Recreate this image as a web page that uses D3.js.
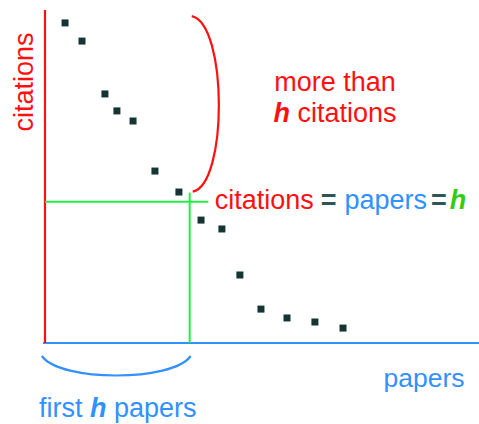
<!DOCTYPE html>
<html>
<head>
<meta charset="utf-8">
<script src="https://cdn.jsdelivr.net/npm/d3@7"></script>
<style>
  html, body { margin: 0; padding: 0; background: #fff; }
  svg { display: block; font-family: "Liberation Sans", Arial, sans-serif; }
</style>
</head>
<body>
<svg id="chart" width="479" height="424"></svg>
<script>
// ---- data (paper rank position, citation count) ----
const paperPos  = [0.97, 1.79, 2.9, 3.48, 4.26, 5.32, 6.48, 7.55, 8.56, 9.43, 10.45, 11.71, 13.06, 14.42];
const citations = [15.86, 14.96, 12.34, 11.5, 11.0, 8.52, 7.48, 6.09, 5.65, 3.37, 1.68, 1.24, 1.04, 0.74];
const hValue = 7;
const xLabel = "papers";
const yLabel = "citations";

const RED = "#ff1010", BLUE = "#3390ff", GREEN_LINE = "#22ee44", GREEN_TEXT = "#33cc11",
      DOT = "#153535", EQ = "#2f5555";

const svg = d3.select("#chart");
const x = d3.scaleLinear().domain([0, 21]).range([45, 479]);
const y = d3.scaleLinear().domain([0, 16.5]).range([343, 10]);

// axes (bare lines)
const xAxis = svg.append("g").attr("transform", `translate(0,${y(0)})`)
  .call(d3.axisBottom(x).ticks(0).tickSize(0).tickFormat(""));
xAxis.select(".domain").attr("stroke", BLUE).attr("stroke-width", 2.2)
  .attr("d", `M${x(0) - 2},0H${x(21)}`);
const yAxis = svg.append("g").attr("transform", `translate(${x(0)},0)`)
  .call(d3.axisLeft(y).ticks(0).tickSize(0).tickFormat(""));
yAxis.select(".domain").attr("stroke", RED).attr("stroke-width", 2.2)
  .attr("d", `M0,${y(16.5)}V${y(0)}`);

// h crosshair
svg.append("line")
  .attr("x1", x(0)).attr("x2", x(hValue + 0.9))
  .attr("y1", y(hValue)).attr("y2", y(hValue))
  .attr("stroke", GREEN_LINE).attr("stroke-width", 2);
svg.append("line")
  .attr("x1", x(hValue)).attr("x2", x(hValue))
  .attr("y1", y(0)).attr("y2", y(hValue + 0.45))
  .attr("stroke", GREEN_LINE).attr("stroke-width", 2);

// points
const pts = paperPos.map((p, i) => ({ p, c: citations[i] }));
svg.append("g").selectAll("rect").data(pts).join("rect")
  .attr("x", d => x(d.p) - 3.5).attr("y", d => y(d.c) - 3.5)
  .attr("width", 7).attr("height", 7)
  .attr("fill", DOT);

// red bracket ")" spanning the top-h papers
{
  const x0 = x(7.1), y0 = y(16.2), y1 = y(7.5), bulge = 36;
  svg.append("path")
    .attr("d", `M${x0},${y0} C${x0 + bulge},${y0 + 8} ${x0 + bulge},${y1 - 7} ${x0 + 1},${y1}`)
    .attr("fill", "none").attr("stroke", RED).attr("stroke-width", 2.2);
}
// blue bracket under first h papers
{
  const xa = x(-0.15), xb = x(7.05), yb = y(0) + 13, depth = 26;
  svg.append("path")
    .attr("d", `M${xa},${yb} C${xa + 18},${yb + depth} ${xb - 18},${yb + depth} ${xb},${yb}`)
    .attr("fill", "none").attr("stroke", BLUE).attr("stroke-width", 2.2);
}

const FS = 27;
// y label
svg.append("text")
  .attr("transform", `translate(33,82) rotate(-90)`)
  .attr("text-anchor", "middle").attr("font-size", FS).attr("fill", RED)
  .text(yLabel);
// x label
svg.append("text")
  .attr("x", 424).attr("y", 387).attr("text-anchor", "middle")
  .attr("font-size", 26.5).attr("fill", BLUE).text(xLabel);

// "more than / h citations"
svg.append("text").attr("x", 335).attr("y", 91).attr("text-anchor", "middle")
  .attr("font-size", FS).attr("fill", RED).text("more than");
{
  const t = svg.append("text").attr("x", 335).attr("y", 122).attr("text-anchor", "middle")
    .attr("font-size", FS).attr("fill", RED);
  t.append("tspan").attr("font-weight", "bold").attr("font-style", "italic").text("h");
  t.append("tspan").text(" citations");
}

// equation line
{
  const t = svg.append("text").attr("x", x(hValue) + 25).attr("y", y(hValue) + 7)
    .attr("font-size", FS);
  t.append("tspan").attr("fill", RED).text("citations");
  t.append("tspan").attr("fill", EQ).attr("font-weight", "bold").attr("dx", 7).text("=");
  t.append("tspan").attr("fill", BLUE).attr("dx", 8).text("papers");
  t.append("tspan").attr("fill", EQ).attr("font-weight", "bold").attr("dx", 4).text("=");
  t.append("tspan").attr("fill", GREEN_TEXT).attr("font-weight", "bold").attr("font-style", "italic").attr("dx", 3).text("h");
}

// "first h papers"
{
  const t = svg.append("text").attr("x", 39).attr("y", 417).attr("font-size", FS).attr("fill", BLUE);
  t.append("tspan").text("first ");
  t.append("tspan").attr("font-weight", "bold").attr("font-style", "italic").text("h");
  t.append("tspan").text(" papers");
}
</script>
</body>
</html>
